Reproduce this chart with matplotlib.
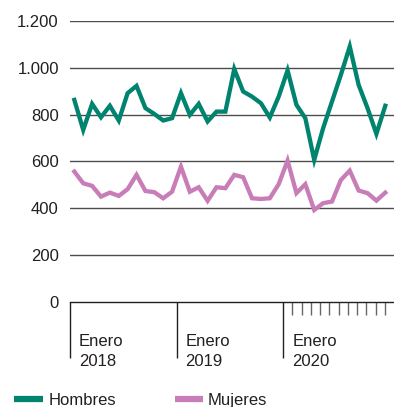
import matplotlib
matplotlib.use("Agg")
import matplotlib.pyplot as plt
from matplotlib.lines import Line2D
from matplotlib.ticker import FixedLocator, FuncFormatter
import numpy as np

plt.rcParams['font.family'] = ['Liberation Sans', 'DejaVu Sans']

# Monthly series, January 2018 to December 2020
hombres = [863, 735, 846, 789, 838, 775, 892, 923, 828, 803, 775, 785,
           892, 799, 846, 771, 813, 813, 995, 899, 877, 849, 788, 877,
           989, 842, 785, 607, 742, 856, 970, 1091, 927, 828, 718, 838]
mujeres = [557, 507, 496, 450, 467, 453, 482, 543, 474, 469, 443, 471,
           578, 471, 490, 432, 490, 486, 543, 533, 443, 440, 443, 503,
           604, 465, 503, 393, 422, 429, 521, 561, 476, 465, 433, 467]
years = ["2018", "2019", "2020"]
y_ticks = [0, 200, 400, 600, 800, 1000, 1200]
series_names = ["Hombres", "Mujeres"]

GREEN = "#00846f"
PINK = "#c97db8"
TEXT = "#231f20"
FS = 12

months = np.arange(len(hombres))
x_right = 35.98

fig = plt.figure(figsize=(3.94, 4.07), dpi=100)
ax = fig.add_axes([0.1774, 0.258, 1 - 0.1774, 0.9484 - 0.258])

ax.plot(months, hombres, color=GREEN, lw=3.1, solid_joinstyle='miter', zorder=3)
ax.plot(months, mujeres, color=PINK, lw=3.1, solid_joinstyle='miter', zorder=3)

ax.set_ylim(0, 1200)
ax.set_xlim(-0.5, x_right)

# horizontal grid
for v in y_ticks[1:]:
    ax.axhline(v, color="#4d4d4d", lw=1.0, zorder=1)
ax.yaxis.set_major_locator(FixedLocator(y_ticks))
ax.yaxis.set_major_formatter(FuncFormatter(lambda v, p: f"{int(v):,}".replace(",", ".")))
ax.tick_params(axis='y', length=0, pad=8, labelsize=FS, labelcolor=TEXT)

for s in ['top', 'right', 'left']:
    ax.spines[s].set_visible(False)
ax.spines['bottom'].set_color("#231f20")
ax.spines['bottom'].set_linewidth(1.0)

# year boundaries as long ticks, the last year split into twelve short ticks
year_starts = [-0.5 + 12 * k for k in range(len(years))]
step = (x_right - year_starts[-1]) / 12
ax.xaxis.set_major_locator(FixedLocator(year_starts))
ax.xaxis.set_minor_locator(FixedLocator([year_starts[-1] + k * step for k in range(1, 12)]))
ax.tick_params(axis='x', which='major', length=40, width=1.0, color="#231f20",
               labelbottom=False, direction='out')
ax.tick_params(axis='x', which='minor', length=9.5, width=1.0, color="#666666",
               direction='out')

for x0, yr in zip(year_starts, years):
    ax.annotate(f"Enero\n{yr}", xy=(x0, 0), xycoords=('data', 'axes fraction'),
                xytext=(6.5, -23), textcoords='offset points',
                ha='left', va='top', fontsize=FS, color=TEXT, linespacing=1.45)

# legend
leg_y = 1 - 399 / 407
for (x0, x1, xt), name, col in zip([(14, 43, 49), (175, 203, 208)], series_names, [GREEN, PINK]):
    fig.add_artist(Line2D([x0 / 394, x1 / 394], [leg_y, leg_y], color=col, lw=4.5,
                          solid_capstyle='butt', transform=fig.transFigure))
    fig.text(xt / 394, leg_y - 0.004, name, ha='left', va='center', fontsize=FS, color=TEXT)

fig.savefig("out.png", dpi=100)
